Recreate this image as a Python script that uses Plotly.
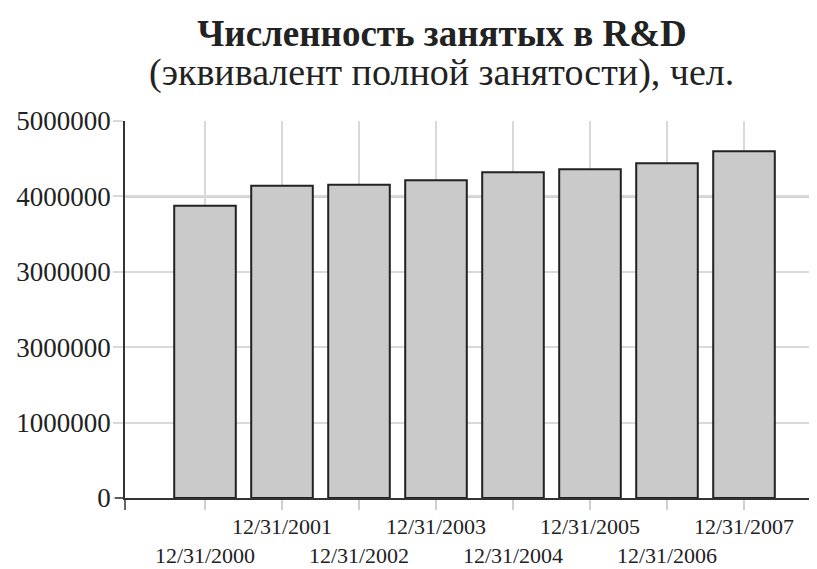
import plotly.graph_objects as go

categories = ["12/31/2000", "12/31/2001", "12/31/2002", "12/31/2003",
              "12/31/2004", "12/31/2005", "12/31/2006", "12/31/2007"]
values = [3875000, 4140000, 4155000, 4215000, 4320000, 4360000, 4440000, 4600000]
y_tickvals = [0, 1000000, 2000000, 3000000, 4000000, 5000000]
y_ticktext = ["0", "1000000", "3000000", "3000000", "4000000", "5000000"]
title_line1 = "Численность занятых в R&D"
title_line2 = "(эквивалент полной занятости), чел."

FONT = "Liberation Serif, Times New Roman, serif"
x_idx = list(range(len(categories)))
# staggered labels: even-indexed on the lower row
x_ticktext = [("<br>" + c) if i % 2 == 0 else c for i, c in enumerate(categories)]

fig = go.Figure()
fig.add_trace(go.Bar(
    x=x_idx, y=values, width=0.8,
    marker=dict(color="#cacaca", line=dict(color="#222222", width=2)),
    hoverinfo="x+y",
))

# the page body adds an 8px offset, so the figure is 8px smaller and shifted
OFF = 8
W, H = 817 - OFF, 569 - OFF
ml, mr, mt, mb = 125 - OFF, 0, 121 - OFF, 71
pw, ph = W - ml - mr, H - mt - mb

fig.update_layout(
    width=W, height=H,
    margin=dict(l=ml, r=mr, t=mt, b=mb, autoexpand=False),
    paper_bgcolor="white", plot_bgcolor="white",
    font=dict(family=FONT, color="#222222"),
    showlegend=False,
    title=dict(
        text="<b>" + title_line1 + "</b>",
        x=(442 - OFF) / W, xanchor="center", y=1 - (33 - OFF) / H, yanchor="middle",
        font=dict(family=FONT, size=37, color="#222222"),
    ),
    annotations=[dict(
        text=title_line2, xref="paper", yref="paper",
        x=(441 - 125) / pw, y=1 + (121 - 73) / ph, xanchor="center", yanchor="middle",
        showarrow=False, font=dict(family=FONT, size=38, color="#222222"),
    )],
    bargap=0.2,
)
fig.update_xaxes(
    range=[-80 / 77, -80 / 77 + pw / 77],
    tickvals=x_idx, ticktext=x_ticktext, tickangle=0, automargin=False,
    tickfont=dict(family=FONT, size=22, color="#222222"),
    showgrid=True, gridcolor="#d9d9d9", gridwidth=1.5,
    ticks="outside", ticklen=10, tickcolor="#cfcfcf", tickwidth=1.5,
    ticklabelstandoff=-2,
    showline=True, linecolor="#333333", linewidth=1.5,
    zeroline=False, fixedrange=True,
)
fig.update_yaxes(
    range=[0, 5000000],
    tickvals=y_tickvals, ticktext=y_ticktext, automargin=False,
    tickfont=dict(family=FONT, size=27, color="#222222"),
    showgrid=True, gridcolor="#d9d9d9", gridwidth=1.5,
    ticks="outside", ticklen=10, tickcolor="#d9d9d9", tickwidth=1.5,
    ticklabelstandoff=-3,
    showline=True, linecolor="#333333", linewidth=1.5,
    zeroline=False, fixedrange=True,
)

# darker gridline at 4 000 000 and darker segment at 2 000 000 (as in the scan)
fig.add_shape(type="line", xref="paper", yref="y", x0=0, x1=1, y0=4000000, y1=4000000,
              line=dict(color="#444444", width=1.5), layer="below")
fig.add_shape(type="line", xref="x", yref="y", x0=6.5, x1=8, y0=2000000, y1=2000000,
              line=dict(color="#444444", width=1.5), layer="below")
# darker vertical gridline above the 2001 bar
fig.add_shape(type="line", xref="x", yref="y", x0=1, x1=1, y0=values[1], y1=5000000,
              line=dict(color="#444444", width=1.5), layer="below")
# axis extensions past the origin
fig.add_shape(type="line", xref="paper", yref="paper", x0=0, x1=0, y0=0, y1=-12 / ph,
              line=dict(color="#333333", width=1.5))
fig.add_shape(type="line", xref="paper", yref="paper", x0=-10 / pw, x1=0, y0=0, y1=0,
              line=dict(color="#333333", width=1.5))

fig.write_html("out.html")
